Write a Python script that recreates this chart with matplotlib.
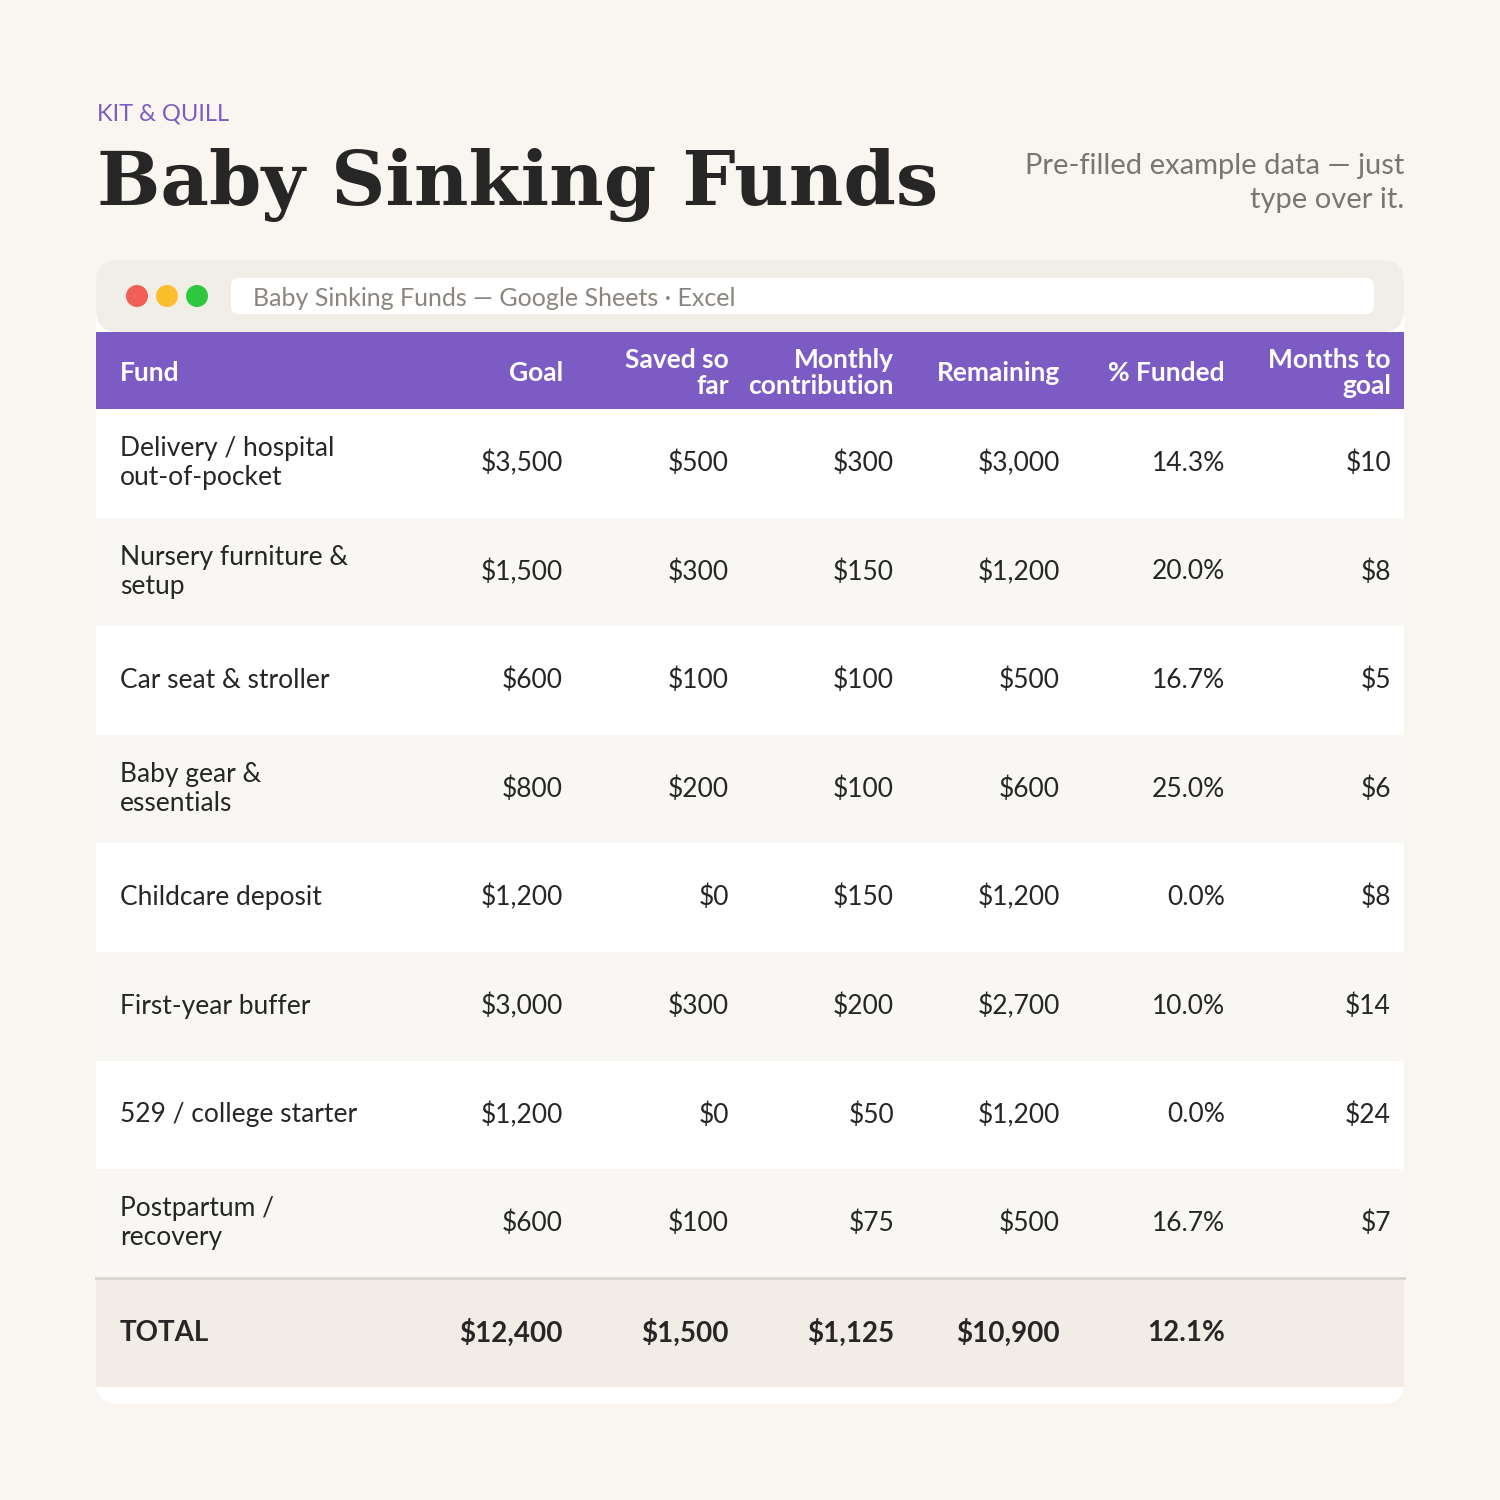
import matplotlib.pyplot as plt
from matplotlib.patches import FancyBboxPatch, Rectangle, Circle

funds = ['Delivery / hospital\nout-of-pocket', 'Nursery furniture &\nsetup', 'Car seat & stroller',
         'Baby gear &\nessentials', 'Childcare deposit', 'First-year buffer',
         '529 / college starter', 'Postpartum /\nrecovery']
goal = [3500, 1500, 600, 800, 1200, 3000, 1200, 600]
saved = [500, 300, 100, 200, 0, 300, 0, 100]
monthly = [300, 150, 100, 100, 150, 200, 50, 75]
remaining = [3000, 1200, 500, 600, 1200, 2700, 1200, 500]
pct_funded = [14.3, 20.0, 16.7, 25.0, 0.0, 10.0, 0.0, 16.7]
months_to_goal = [10, 8, 5, 6, 8, 14, 24, 7]
totals = ['$12,400', '$1,500', '$1,125', '$10,900', '12.1%']
headers = ['Goal', 'Saved so\nfar', 'Monthly\ncontribution', 'Remaining', '% Funded', 'Months to\ngoal']

plt.rcParams['font.family'] = ['Lato', 'DejaVu Sans']
fig = plt.figure(figsize=(15, 15), dpi=100, facecolor='#f9f6f1')
ax = fig.add_axes([0, 0, 1, 1])
ax.set_xlim(0, 1500)
ax.set_ylim(1500, 0)
ax.axis('off')

dark = '#262626'
purple = '#7c5cc4'
ax.text(97, 114, 'KIT & QUILL', color=purple, fontsize=17, va='center')
ax.text(97, 185, 'Baby Sinking Funds', color=dark, fontsize=54, fontweight='bold',
        family='DejaVu Serif', va='center')
ax.text(1404, 183, 'Pre-filled example data — just\ntype over it.', color='#7a7570',
        fontsize=21, ha='right', va='center', linespacing=1.35)

# card
ax.add_patch(FancyBboxPatch((96, 260), 1308, 1144, boxstyle='round,pad=0,rounding_size=22',
                            fc='white', ec='none'))
ax.add_patch(FancyBboxPatch((96, 260), 1308, 72, boxstyle='round,pad=0,rounding_size=22',
                            fc='#f1ede7', ec='none'))
for cx, c in zip([137, 167, 197], ['#f25f58', '#fbbe2e', '#2ec840']):
    ax.add_patch(Circle((cx, 296), 11, fc=c, ec='none'))
ax.add_patch(FancyBboxPatch((231, 278), 1143, 36, boxstyle='round,pad=0,rounding_size=8',
                            fc='white', ec='none'))
ax.text(253, 298, 'Baby Sinking Funds — Google Sheets · Excel', color='#8a857f',
        fontsize=18, va='center')

# header
ax.add_patch(Rectangle((96, 332), 1308, 77, fc=purple, ec='none'))
right_edges = [563, 729, 894, 1060, 1225, 1391]
ax.text(120, 373, 'Fund', color='white', fontsize=19, fontweight='bold', va='center')
for x, h in zip(right_edges, headers):
    ax.text(x, 373, h, color='white', fontsize=19, fontweight='bold', va='center', ha='right',
            linespacing=1.1)

row_h = 108.6
top = 409
for i, name in enumerate(funds):
    y0 = top + i * row_h
    ax.add_patch(Rectangle((96, y0), 1308, row_h, fc='white' if i % 2 == 0 else '#f9f7f3', ec='none'))
    yc = y0 + row_h / 2
    ax.text(120, yc, name, color=dark, fontsize=19, va='center', linespacing=1.2)
    vals = [f'${goal[i]:,}', f'${saved[i]:,}', f'${monthly[i]:,}', f'${remaining[i]:,}',
            f'{pct_funded[i]:.1f}%', f'${months_to_goal[i]}']
    for x, v in zip(right_edges, vals):
        ax.text(x, yc, v, color=dark, fontsize=19, va='center', ha='right')

y0 = top + 8 * row_h
ax.plot([96, 1404], [y0, y0], color='#d9d4cd', lw=2)
ax.add_patch(Rectangle((96, y0 + 1), 1308, 108, fc='#f1ece6', ec='none'))
yc = y0 + 1 + 54
ax.text(120, yc, 'TOTAL', color=dark, fontsize=20, fontweight='bold', va='center')
for x, v in zip(right_edges, totals):
    ax.text(x, yc, v, color=dark, fontsize=20, fontweight='bold', va='center', ha='right')

fig.savefig('out.png', dpi=100, facecolor=fig.get_facecolor())
